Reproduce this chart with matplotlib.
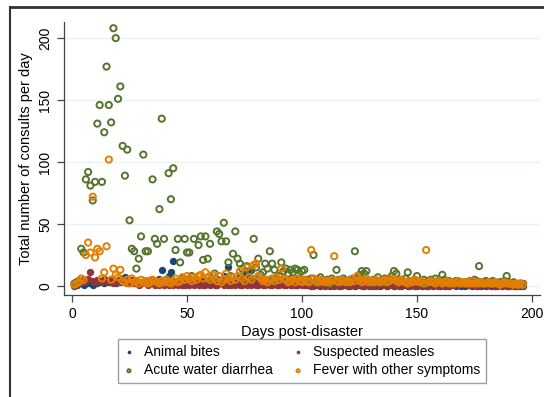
import numpy as np
import matplotlib
matplotlib.use("Agg")
import matplotlib.pyplot as plt
from matplotlib.lines import Line2D

plt.rcParams['font.family'] = ['Liberation Sans', 'DejaVu Sans']

# daily consult counts, day 1 .. 196
bites = [0, 1, 2, 3, 1, 2, 4, 2, 1, 3,
         2, 4, 3, 2, 5, 3, 6, 4, 2, 5,
         3, 6, 7, 4, 3, 5, 2, 4, 3, 2,
         3, 4, 2, 5, 3, 2, 4, 6, 13, 3,
         2, 8, 11, 20, 4, 3, 5, 2, 4, 3,
         2, 4, 3, 5, 2, 3, 4, 2, 3, 5,
         3, 4, 6, 3, 5, 8, 4, 15, 3, 5,
         4, 6, 8, 3, 10, 5, 7, 13, 4, 6,
         3, 5, 4, 2, 3, 6, 2, 4, 3, 2,
         3, 2, 4, 2, 1, 3, 2, 1, 3, 2,
         2, 1, 3, 0, 2, 1, 2, 0, 1, 2,
         1, 0, 2, 1, 3, 0, 1, 2, 1, 0,
         2, 1, 0, 1, 2, 1, 0, 2, 1, 1,
         0, 1, 2, 0, 1, 1, 0, 2, 1, 0,
         1, 2, 0, 1, 1, 0, 1, 2, 0, 1,
         1, 0, 1, 2, 0, 1, 0, 1, 1, 0,
         1, 0, 1, 0, 2, 1, 0, 1, 0, 1,
         0, 1, 1, 0, 1, 0, 1, 0, 1, 0,
         1, 0, 1, 0, 0, 1, 0, 1, 0, 0,
         1, 0, 0, 1, 0, 0]

measles = [1, 2, 3, 4, 3, 5, 6, 11, 4, 3,
           5, 4, 3, 6, 4, 3, 5, 2, 4, 3,
           4, 3, 5, 2, 3, 4, 2, 3, 1, 2,
           3, 2, 1, 2, 3, 1, 2, 1, 2, 1,
           2, 1, 3, 1, 2, 1, 2, 1, 1, 2,
           1, 2, 1, 3, 1, 2, 1, 1, 2, 1,
           2, 1, 1, 2, 3, 1, 2, 1, 1, 2,
           1, 2, 1, 1, 2, 1, 3, 1, 2, 1,
           1, 2, 1, 1, 2, 1, 1, 2, 1, 1,
           2, 1, 1, 3, 1, 2, 1, 1, 2, 1,
           1, 2, 1, 1, 0, 1, 2, 1, 1, 0,
           1, 1, 2, 0, 1, 1, 0, 1, 2, 1,
           0, 1, 1, 2, 1, 0, 1, 1, 0, 1,
           1, 0, 1, 2, 1, 1, 0, 1, 1, 2,
           1, 0, 1, 1, 2, 1, 0, 1, 1, 0,
           1, 2, 1, 0, 1, 1, 2, 1, 0, 1,
           1, 0, 2, 1, 1, 2, 1, 3, 2, 3,
           2, 1, 1, 2, 1, 0, 1, 2, 3, 1,
           1, 2, 1, 0, 1, 1, 2, 1, 1, 0,
           1, 1, 0, 1, 0, 2]

diarrhea = [2, 3, 4, 30, 27, 86, 92, 81, 69, 84,
            131, 146, 84, 124, 177, 146, 132, 208, 200, 151,
            161, 113, 89, 110, 53, 30, 28, 14, 22, 40,
            106, 28, 28, 4, 86, 38, 34, 62, 135, 38,
            5, 91, 70, 95, 29, 38, 19, 6, 38, 27,
            27, 8, 38, 5, 33, 40, 21, 40, 22, 34,
            6, 10, 44, 42, 36, 51, 36, 19, 8, 26,
            44, 22, 18, 14, 10, 16, 12, 6, 38, 15,
            22, 9, 11, 18, 14, 28, 18, 13, 5, 8,
            19, 12, 14, 10, 13, 11, 14, 13, 6, 12,
            13, 5, 4, 6, 25, 3, 5, 7, 3, 4,
            5, 2, 6, 4, 13, 5, 3, 6, 4, 3,
            5, 4, 28, 6, 9, 12, 10, 12, 4, 3,
            5, 3, 7, 4, 3, 6, 4, 5, 8, 12,
            10, 3, 5, 4, 6, 11, 4, 3, 5, 8,
            4, 3, 5, 2, 4, 5, 3, 6, 4, 3,
            9, 5, 3, 4, 2, 3, 4, 2, 3, 2,
            3, 2, 4, 2, 5, 4, 16, 3, 2, 4,
            3, 2, 4, 3, 2, 3, 2, 4, 8, 3,
            2, 3, 2, 1, 2, 1]

fever = [1, 2, 3, 6, 5, 25, 35, 27, 72, 23,
         30, 28, 6, 11, 32, 102, 5, 14, 9, 7,
         13, 4, 3, 5, 2, 6, 3, 4, 2, 5,
         3, 4, 2, 3, 5, 4, 3, 2, 4, 3,
         5, 3, 2, 4, 6, 3, 4, 7, 5, 8,
         6, 4, 7, 5, 8, 9, 6, 11, 7, 5,
         9, 6, 4, 8, 3, 5, 10, 6, 4, 7,
         5, 8, 12, 6, 4, 15, 7, 5, 17, 18,
         8, 6, 4, 5, 3, 5, 6, 4, 7, 5,
         14, 6, 5, 3, 4, 5, 3, 6, 4, 3,
         5, 4, 3, 29, 6, 4, 3, 5, 4, 3,
         4, 3, 5, 24, 4, 3, 5, 4, 3, 4,
         3, 6, 4, 8, 5, 3, 4, 6, 3, 4,
         3, 5, 4, 3, 4, 5, 3, 4, 6, 5,
         4, 3, 5, 4, 3, 2, 4, 3, 5, 4,
         3, 4, 2, 29, 3, 4, 3, 2, 4, 3,
         2, 3, 4, 2, 3, 2, 3, 4, 2, 3,
         2, 3, 2, 4, 2, 3, 2, 3, 2, 2,
         3, 2, 2, 3, 2, 1, 2, 3, 2, 2,
         2, 1, 2, 1, 2, 1]

days = np.arange(1, len(diarrhea) + 1)

navy = '#1a476f'
maroon = '#90353b'
green = '#55752f'
orange = '#e37e00'

fig = plt.figure(figsize=(5.44, 3.97), dpi=100)
ax = fig.add_axes([64/544, 1-295/397, 476/544, 273/397])

for yv in [0, 50, 100, 150, 200]:
    ax.axhline(yv, color='#eaf2f3', lw=1, zorder=0)

h1 = ax.scatter(days, bites, s=28, color=navy, lw=0, label='Animal bites', zorder=2)
h2 = ax.scatter(days, measles, s=28, color=maroon, lw=0, label='Suspected measles', zorder=2)
h3 = ax.scatter(days, diarrhea, s=20, facecolors='none', edgecolors=green, lw=1.4,
                label='Acute water diarrhea', zorder=3)
h4 = ax.scatter(days, fever, s=20, facecolors='none', edgecolors=orange, lw=1.4,
                label='Fever with other symptoms', zorder=3)

ax.set_xlim(-3.5, 203.5)
ax.set_ylim(-7.3, 213)
ax.set_xticks([0, 50, 100, 150, 200])
ax.set_yticks([0, 50, 100, 150, 200])
for sp in ['top', 'right']:
    ax.spines[sp].set_visible(False)
for sp in ['left', 'bottom']:
    ax.spines[sp].set_color('#444444')
    ax.spines[sp].set_linewidth(0.9)
ax.tick_params(direction='out', length=5, width=0.9, color='#444444', labelsize=10)
plt.setp(ax.get_yticklabels(), rotation=90, va='center')
ax.set_xlabel('Days post-disaster', fontsize=10.5, labelpad=3)
ax.set_ylabel('Total number of consults per day', fontsize=10.5, labelpad=4)

# row-wise order like the original legend
leg = ax.legend([h1, h3, h2, h4],
                ['Animal bites', 'Acute water diarrhea', 'Suspected measles',
                 'Fever with other symptoms'],
                ncol=2, loc='center', bbox_to_anchor=(302/544, 1-361/397),
                bbox_transform=fig.transFigure, fontsize=10, frameon=True,
                fancybox=False, edgecolor='#888888', markerscale=0.5,
                handlelength=0.8, handletextpad=0.7, columnspacing=1.4,
                borderpad=0.4, labelspacing=0.35)
leg.get_frame().set_linewidth(1.0)

# outer graph frame (cropped at right and bottom)
fig.add_artist(Line2D([10/544, 1], [1-7/397, 1-7/397], color='#333333', lw=2))
fig.add_artist(Line2D([10/544, 10/544], [0, 1-7/397], color='#333333', lw=1.5))

fig.savefig('out.png', dpi=100)
